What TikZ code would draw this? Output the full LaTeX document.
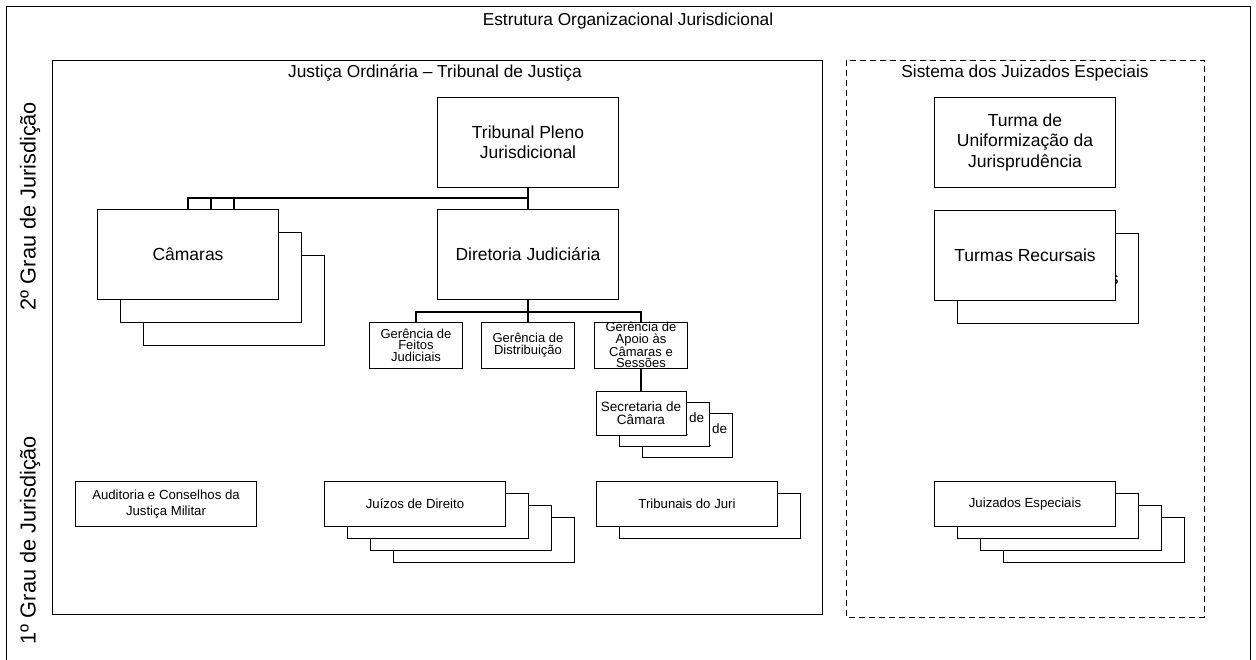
\documentclass[tikz,border=0pt]{standalone}
\usepackage{fontspec}
\setmainfont{Liberation Sans}
\usetikzlibrary{backgrounds}
\begin{document}
\begin{tikzpicture}[x=1pt,y=-1pt,
  bx/.style={draw, fill=white, line width=0.8pt, inner sep=0pt, align=center},
  big/.style={bx, minimum width=181pt, minimum height=90pt, font=\fontsize{17.5}{20.5}\selectfont},
  ger/.style={bx, minimum width=93pt, minimum height=46pt, font=\fontsize{13}{11.5}\selectfont},
  sec/.style={bx, minimum width=90pt, minimum height=44pt, font=\fontsize{13.5}{12.5}\selectfont},
  low/.style={bx, minimum width=181pt, minimum height=45pt, font=\fontsize{13.2}{15.5}\selectfont},
  conn/.style={line width=1.8pt},
  panel/.style={line width=0.8pt},
  lbl/.style={font=\fontsize{17.3}{20}\selectfont},
  side/.style={rotate=90, font=\fontsize{21.7}{26}\selectfont}]
\useasboundingbox (0,0) rectangle (1256,659);
\clip (0,0) rectangle (1256,659);
% frames
\draw[panel] (6,6) rectangle (1250,700);
\draw[panel] (52,60) rectangle (822,614);
\draw[panel, dash pattern=on 6pt off 4pt] (846,60) rectangle (1204,617);
\node[lbl] (title) at (628,21) {Estrutura Organizacional Jurisdicional};
\node[lbl] (tjtitle) at (435,73) {Justiça Ordinária – Tribunal de Justiça};
\node[lbl] (jetitle) at (1025,73) {Sistema dos Juizados Especiais};
\node[side] (g2) at (30,206) {2º Grau de Jurisdição};
\node[side] (g1) at (30,540) {1º Grau de Jurisdição};
% second degree
\node[big] (tp) at (528,142) {Tribunal Pleno\\Jurisdicional};
\node[big] (dj) at (528,254) {Diretoria Judiciária};
\node[big] (cam3) at (234,300) {Câmaras};
\node[big] (cam2) at (211,277) {Câmaras};
\node[big] (cam1) at (188,254) {Câmaras};
\node[ger] (ge1) at (416,345) {Gerência de\\Feitos\\Judiciais};
\node[ger] (ge2) at (528,345) {Gerência de\\Distribuição};
\node[ger] (ge3) at (641,345) {Gerência de\\Apoio às\\Câmaras e\\Sessões};
\node[sec] (sc3) at (687,435) {Secretaria de\\Câmara};
\node[sec] (sc2) at (664,424) {Secretaria de\\Câmara};
\node[sec] (sc1) at (641,413) {Secretaria de\\Câmara};
\node[big] (tuj) at (1025,142) {Turma de\\Uniformização da\\Jurisprudência};
\node[big] (tr2) at (1048,278) {Turmas Recursais};
\node[big] (tr1) at (1025,255) {Turmas Recursais};
% first degree
\node[low] (aud) at (166,504) {Auditoria e Conselhos da\\Justiça Militar};
\node[low] (jd4) at (484,540) {Juízos de Direito};
\node[low] (jd3) at (461,528) {Juízos de Direito};
\node[low] (jd2) at (438,516) {Juízos de Direito};
\node[low] (jd1) at (415,504) {Juízos de Direito};
\node[low] (tj2) at (710,516) {Tribunais do Juri};
\node[low] (tj1) at (687,504) {Tribunais do Juri};
\node[low] (je4) at (1094,540) {Juizados Especiais};
\node[low] (je3) at (1071,528) {Juizados Especiais};
\node[low] (je2) at (1048,516) {Juizados Especiais};
\node[low] (je1) at (1025,504) {Juizados Especiais};
% connectors
\begin{scope}[on background layer]
\coordinate (b1) at (528,198);
\coordinate (b2) at (528,312);
\draw[conn] (tp.south) -- (dj.north);
\draw[conn] (b1) -| (cam1.north);
\draw[conn] (b1) -| (cam2.north);
\draw[conn] (b1) -| (cam3.north);
\draw[conn] (dj.south) -- (ge2.north);
\draw[conn] (b2) -| (ge1.north);
\draw[conn] (b2) -| (ge3.north);
\draw[conn] (ge3.south) -- (sc1.north);
\end{scope}
\end{tikzpicture}
\end{document}
